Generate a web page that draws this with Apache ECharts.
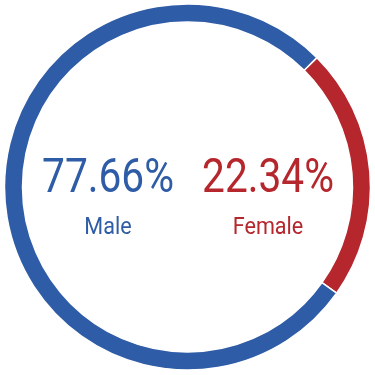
<!DOCTYPE html>
<html><head><meta charset="utf-8">
<script src="https://cdn.jsdelivr.net/npm/echarts@6/dist/echarts.min.js"></script>
<style>html,body{margin:0;padding:0;background:#fff}#c{width:375px;height:375px}</style>
</head><body><div id="c"></div>
<script>
const categories = ['Female', 'Male'];
const values = [22.34, 77.66];
const colors = ['#b5262d', '#2f5ca6'];

const chart = echarts.init(document.getElementById('c'));
const fontFam = 'Roboto, sans-serif';
const textX = { Male: 108, Female: 268 };
const graphics = [];
categories.forEach((cat, i) => {
  graphics.push({
    type: 'text', x: textX[cat], y: 180, scaleX: 0.83,
    style: { text: values[i].toFixed(2) + '%', fill: colors[i], font: '49px ' + fontFam, textAlign: 'center', textVerticalAlign: 'middle' }
  });
  graphics.push({
    type: 'text', x: textX[cat], y: 228, scaleX: 0.9,
    style: { text: cat, fill: colors[i], font: '24px ' + fontFam, textAlign: 'center', textVerticalAlign: 'middle' }
  });
});
chart.setOption({
  animation: false,
  graphic: graphics,
  series: [{
    type: 'pie',
    center: [187.5, 187],
    radius: [165, 183],
    startAngle: 45,
    clockwise: true,
    label: { show: false },
    labelLine: { show: false },
    silent: true,
    itemStyle: { borderColor: '#fff', borderWidth: 1.5 },
    data: categories.map((c, i) => ({ name: c, value: values[i], itemStyle: { color: colors[i] } }))
  }]
});
</script></body></html>
